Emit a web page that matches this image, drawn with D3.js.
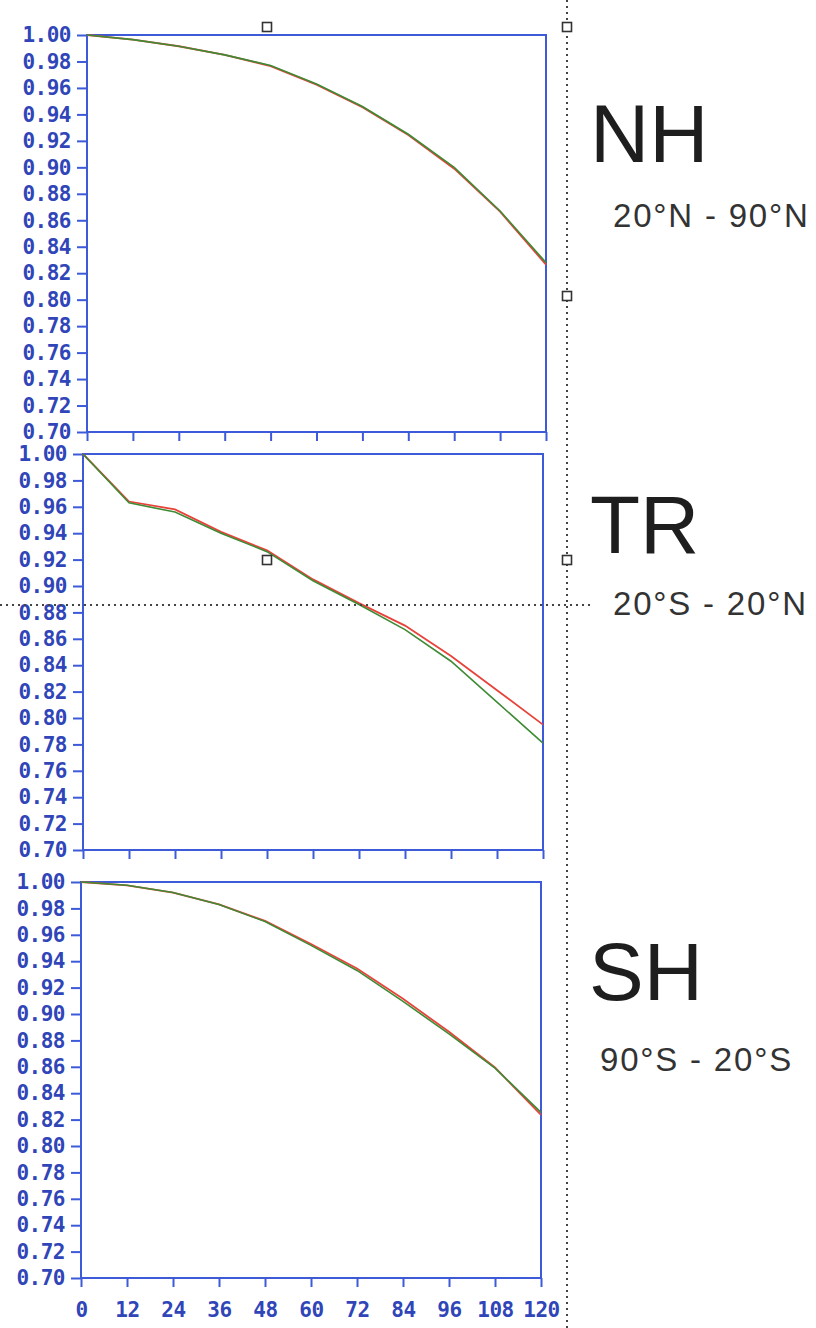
<!DOCTYPE html>
<html>
<head>
<meta charset="utf-8">
<script src="https://cdn.jsdelivr.net/npm/d3@7"></script>
<style>
  html, body { margin: 0; padding: 0; background: #fff; }
  svg { display: block; }
</style>
</head>
<body>
<svg id="chart" width="816" height="1328"></svg>
<script>
// Forecast lead time (hours) and the y-axis tick values
const leadHours = [0, 12, 24, 36, 48, 60, 72, 84, 96, 108, 120];
const yTicks = [0.70, 0.72, 0.74, 0.76, 0.78, 0.80, 0.82, 0.84, 0.86, 0.88, 0.90, 0.92, 0.94, 0.96, 0.98, 1.00];

// Scores for each region, two experiments (red, green)
const nhRed   = [1.000, 0.9965, 0.9915, 0.985, 0.9765, 0.9625, 0.9455, 0.9245, 0.899, 0.8665, 0.8265];
const nhGreen = [1.000, 0.9965, 0.9915, 0.985, 0.9770, 0.9630, 0.9460, 0.9250, 0.900, 0.8670, 0.8280];
const trRed   = [1.000, 0.964, 0.958, 0.941, 0.927, 0.905, 0.887, 0.870, 0.847, 0.821, 0.795];
const trGreen = [1.000, 0.963, 0.956, 0.940, 0.926, 0.904, 0.886, 0.867, 0.843, 0.812, 0.781];
const shRed   = [1.000, 0.9975, 0.992, 0.983, 0.9705, 0.953, 0.9345, 0.9115, 0.8865, 0.8595, 0.8235];
const shGreen = [1.000, 0.9975, 0.992, 0.983, 0.9700, 0.952, 0.9330, 0.9095, 0.8850, 0.8590, 0.8255];

const regionNames  = ["NH", "TR", "SH"];
const regionRanges = ["20°N - 90°N", "20°S - 20°N", "90°S - 20°S"];

const redSeries   = [nhRed, trRed, shRed];
const greenSeries = [nhGreen, trGreen, shGreen];

// Panel frames (pixel layout)
const frames = [
  { left: 87, right: 546, top: 35,  bottom: 432 },
  { left: 83, right: 543, top: 454, bottom: 850 },
  { left: 81, right: 541, top: 882, bottom: 1278 }
];
const titlePos = [
  { x: 590, y: 162,  sx: 613, sy: 227 },
  { x: 590, y: 553,  sx: 613, sy: 615 },
  { x: 589, y: 1000, sx: 600, sy: 1071 }
];

const axisBlue = "#3d5ad8";
const labelBlue = "#2f45b8";
const tickFont = sel => sel
  .attr("fill", labelBlue)
  .style("font-family", "'DejaVu Sans Mono', monospace")
  .style("font-weight", "bold")
  .style("font-size", "21px")
  .style("letter-spacing", "-0.5px");

const svg = d3.select("#chart");

frames.forEach((f, i) => {
  const x = d3.scaleLinear().domain([0, 120]).range([f.left, f.right]);
  const y = d3.scaleLinear().domain([0.70, 1.00]).range([f.bottom, f.top]);
  const g = svg.append("g");

  // y axis with labels
  const ya = g.append("g")
    .attr("transform", `translate(${f.left},0)`)
    .call(d3.axisLeft(y).tickValues(yTicks).tickFormat(d3.format(".2f"))
      .tickSize(10).tickSizeOuter(0).tickPadding(6));
  ya.select(".domain").remove();
  ya.selectAll("line").attr("stroke", axisBlue).attr("stroke-width", 2);
  ya.selectAll("text").call(tickFont);

  // x axis ticks, labels only on the last panel
  const xa = g.append("g")
    .attr("transform", `translate(0,${f.bottom})`)
    .call(d3.axisBottom(x).tickValues(leadHours).tickSize(9).tickSizeOuter(0).tickPadding(15));
  xa.select(".domain").remove();
  xa.selectAll("line").attr("stroke", axisBlue).attr("stroke-width", 2);
  if (i < 2) {
    xa.selectAll("text").remove();
  } else {
    xa.selectAll("text").call(tickFont);
  }

  // frame
  g.append("rect")
    .attr("x", f.left).attr("y", f.top)
    .attr("width", f.right - f.left).attr("height", f.bottom - f.top)
    .attr("fill", "none").attr("stroke", axisBlue).attr("stroke-width", 2);

  const line = d3.line().x((d, k) => x(leadHours[k])).y(d => y(d));
  g.append("path").datum(redSeries[i])
    .attr("d", line).attr("fill", "none")
    .attr("stroke", "#e8433a").attr("stroke-width", 1.8);
  g.append("path").datum(greenSeries[i])
    .attr("d", line).attr("fill", "none")
    .attr("stroke", "#3f8a35").attr("stroke-width", 1.6);

  // region titles
  const t = titlePos[i];
  svg.append("text")
    .attr("x", t.x).attr("y", t.y)
    .text(regionNames[i])
    .attr("fill", "#1e1e1e")
    .style("font-family", "'Liberation Sans', Arial, sans-serif")
    .style("font-size", "82px");
  svg.append("text")
    .attr("x", t.sx).attr("y", t.sy)
    .text(regionRanges[i])
    .attr("fill", "#333")
    .style("font-family", "'Liberation Sans', Arial, sans-serif")
    .style("font-size", "33px")
    .style("letter-spacing", "1.8px");
});

// dotted registration lines
const dotStyle = sel => sel.attr("stroke", "#444").attr("stroke-width", 2)
  .attr("stroke-dasharray", "2,4").attr("fill", "none");
svg.append("line").attr("x1", 567).attr("x2", 567).attr("y1", 0).attr("y2", 1328).call(dotStyle);
svg.append("line").attr("x1", 0).attr("x2", 592).attr("y1", 605).attr("y2", 605).call(dotStyle);

// registration squares
const marks = [[267, 27], [567, 27], [567, 296], [267, 560], [567, 560]];
svg.selectAll("rect.mark").data(marks).enter().append("rect")
  .attr("class", "mark")
  .attr("x", d => d[0] - 4.5).attr("y", d => d[1] - 4.5)
  .attr("width", 9).attr("height", 9)
  .attr("fill", "#fff").attr("stroke", "#333").attr("stroke-width", 1.6);
</script>
</body>
</html>
